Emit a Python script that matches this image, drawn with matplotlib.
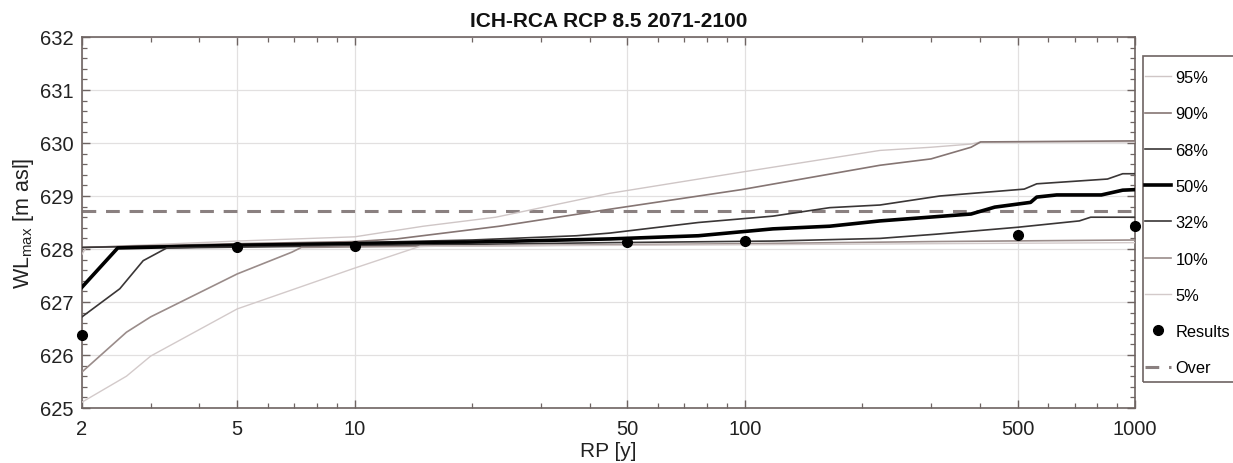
import matplotlib
matplotlib.use("Agg")
import matplotlib.pyplot as plt
from matplotlib.ticker import FixedLocator, NullFormatter, FixedFormatter, MultipleLocator
from matplotlib.patches import Rectangle

plt.rcParams['font.family'] = ['Liberation Sans', 'DejaVu Sans']
plt.rcParams['mathtext.fontset'] = 'custom'
plt.rcParams['mathtext.rm'] = 'Liberation Sans'
plt.rcParams['mathtext.it'] = 'Liberation Sans:italic'

title = "ICH-RCA RCP 8.5 2071-2100"
xlabel = "RP [y]"
ylabel = r"WL$_{\mathrm{max}}$ [m asl]"

# Percentile curves (return period [y], water level [m asl])
rp_p95 = [2, 2.05, 5, 10, 15, 23, 45, 98, 222, 300, 380, 402, 1000]
wl_p95 = [627.9, 628.03, 628.15, 628.23, 628.43, 628.6, 629.05, 629.45, 629.86, 629.92, 629.98, 630.02, 630.02]

rp_p90 = [2, 5, 10, 12.8, 23.5, 45, 98, 222, 300, 380, 402, 1000]
wl_p90 = [628.03, 628.1, 628.14, 628.19, 628.43, 628.75, 629.12, 629.58, 629.7, 629.92, 630.02, 630.04]

rp_p68 = [2, 5, 10, 20, 37, 45, 76, 118, 165, 222, 316, 520, 560, 850, 930, 1000]
wl_p68 = [628.03, 628.08, 628.12, 628.17, 628.25, 628.3, 628.5, 628.62, 628.78, 628.83, 629.0, 629.13, 629.23, 629.32, 629.42, 629.42]

rp_p50 = [2, 2.47, 5, 10, 20, 45, 76, 118, 165, 222, 380, 437, 540, 560, 630, 820, 930, 1000]
wl_p50 = [627.28, 628.02, 628.07, 628.1, 628.13, 628.19, 628.25, 628.38, 628.43, 628.53, 628.66, 628.79, 628.88, 628.98, 629.02, 629.02, 629.11, 629.12]

rp_p32 = [2, 2.5, 2.87, 3.3, 10, 45, 118, 222, 310, 500, 720, 770, 1000]
wl_p32 = [626.72, 627.25, 627.78, 628.02, 628.06, 628.12, 628.15, 628.2, 628.28, 628.41, 628.53, 628.6, 628.6]

rp_p10 = [2, 2.6, 3.0, 5, 6.9, 7.3, 20, 100, 300, 1000]
wl_p10 = [625.68, 626.43, 626.72, 627.53, 627.94, 628.03, 628.06, 628.1, 628.14, 628.17]

rp_p05 = [2, 2.6, 3.0, 5, 10, 14.7, 50, 100, 300, 1000]
wl_p05 = [625.11, 625.6, 625.98, 626.87, 627.64, 628.05, 628.07, 628.08, 628.1, 628.12]

labels = ["95%", "90%", "68%", "50%", "32%", "10%", "5%"]

rp_results = [2, 5, 10, 50, 100, 500, 1000]
wl_results = [626.38, 628.04, 628.06, 628.13, 628.15, 628.26, 628.43]

over_level = 628.72

W, H = 1233, 464
fig = plt.figure(figsize=(W / 100, H / 100), dpi=100)
ax = fig.add_axes([82 / W, 1 - 409 / H, (1135 - 82) / W, (409 - 38) / H])

series = [
    (rp_p95, wl_p95, '#cfc6c6', 1.0),
    (rp_p90, wl_p90, '#857573', 1.2),
    (rp_p68, wl_p68, '#3a3636', 1.2),
    (rp_p50, wl_p50, '#000000', 2.6),
    (rp_p32, wl_p32, '#3a3636', 1.2),
    (rp_p10, wl_p10, '#9a8c8a', 1.2),
    (rp_p05, wl_p05, '#d3caca', 1.0),
]
handles = []
for (x, y, c, lw), lab in zip(series, labels):
    h, = ax.plot(x, y, color=c, lw=lw, label=lab, zorder=3)
    handles.append(h)

hr, = ax.plot(rp_results, wl_results, 'o', color='black', ms=7, label='Results',
              zorder=5, clip_on=False, linestyle='none')
ho = ax.axhline(over_level, color='#8a8080', lw=2.2, ls=(0, (4.5, 3.2)), label='Over', zorder=2)
handles += [hr, ho]

ax.set_xscale('log')
ax.set_xlim(2, 1000)
ax.set_ylim(625, 632)

major_x = [2, 5, 10, 50, 100, 500, 1000]
minor_x = [3, 4, 6, 7, 8, 9, 20, 30, 40, 60, 70, 80, 90, 200, 300, 400, 600, 700, 800, 900]
ax.xaxis.set_major_locator(FixedLocator(major_x))
ax.xaxis.set_major_formatter(FixedFormatter([str(v) for v in major_x]))
ax.xaxis.set_minor_locator(FixedLocator(minor_x))
ax.xaxis.set_minor_formatter(NullFormatter())
ax.yaxis.set_major_locator(MultipleLocator(1))
ax.yaxis.set_minor_locator(MultipleLocator(0.2))

ax.tick_params(which='both', direction='in', top=True, right=True, color='#6e6462')
ax.tick_params(which='major', length=6, width=1.0, labelsize=14.5, labelcolor='#222222')
ax.tick_params(axis='x', which='major', pad=8)
ax.tick_params(axis='y', which='major', pad=6)
ax.tick_params(which='minor', length=3.5, width=0.9)
for s in ax.spines.values():
    s.set_color('#6e6462')
    s.set_linewidth(1.2)

ax.grid(True, which='major', color='#e2e0e0', lw=0.9, zorder=0)

ax.set_title(title, fontsize=15, fontweight='bold', pad=8, color='#111111')
ax.set_xlabel(xlabel, fontsize=15, labelpad=2, color='#222222')
ax.set_ylabel(ylabel, fontsize=15.5, labelpad=3, color='#222222')

leg = fig.legend(handles=handles, labels=labels + ['Results', 'Over'],
                 loc='upper left', bbox_to_anchor=(1145 / W, 1 - 71 / H),
                 fontsize=11.8, frameon=False,
                 handlelength=1.6, handletextpad=0.25, labelspacing=1.3,
                 borderpad=0, borderaxespad=0)

fig.add_artist(Rectangle((1143 / W, 1 - 383 / H), (1245 - 1143) / W, (383 - 57) / H,
                         transform=fig.transFigure, fill=False,
                         edgecolor='#6e6462', lw=1.2, clip_on=False))

fig.savefig('out.png', dpi=100, facecolor='white')
